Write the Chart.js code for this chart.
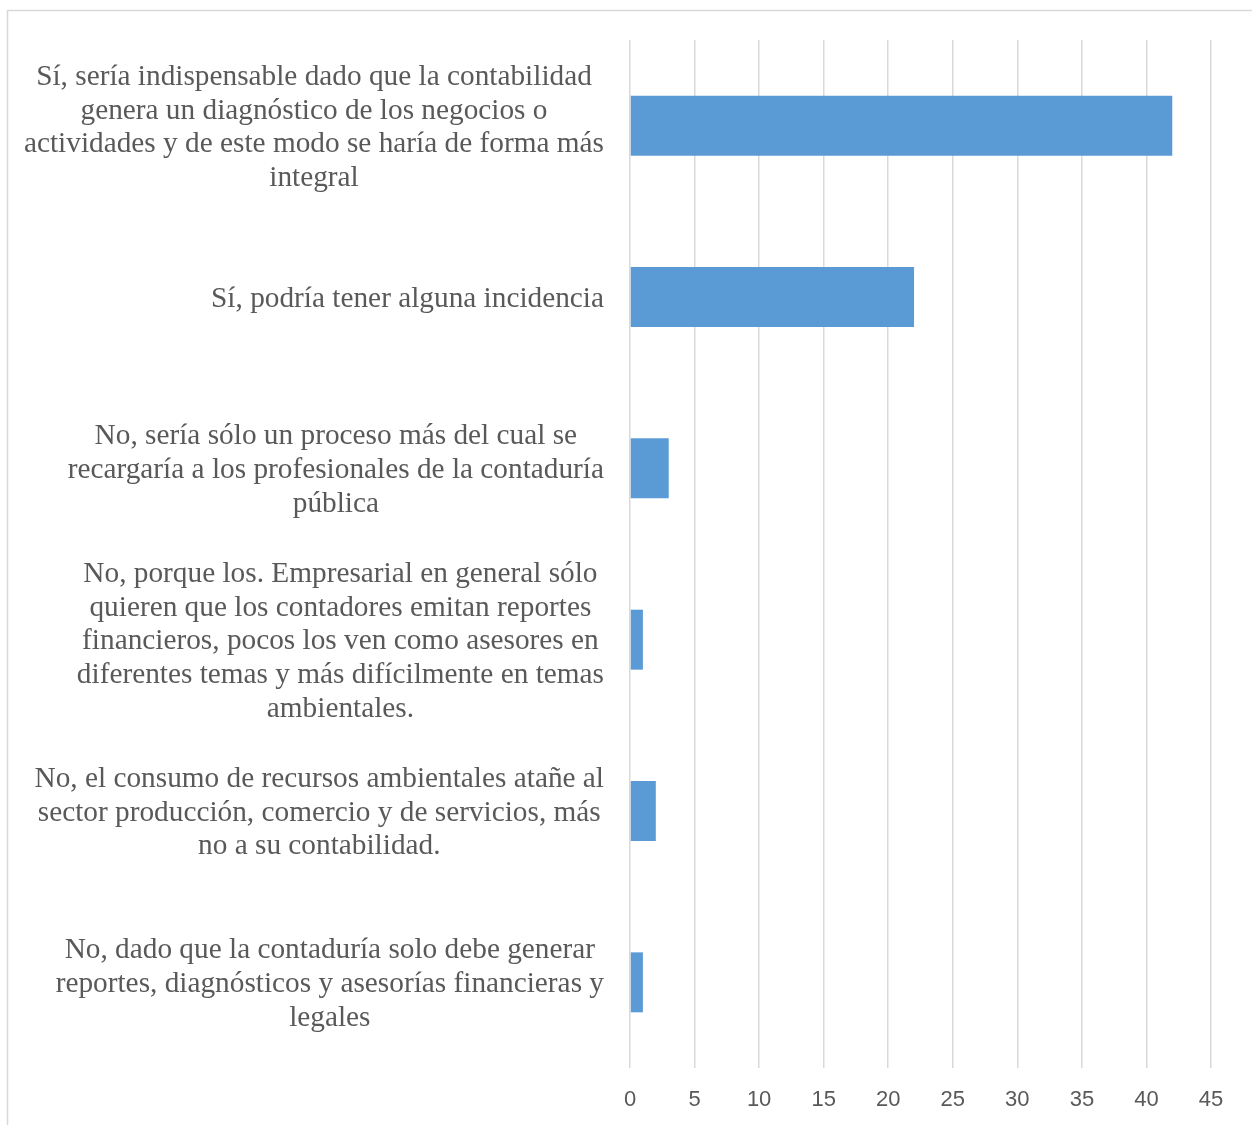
<!DOCTYPE html>
<html>
<head>
    <title>Incidencia de la contabilidad</title>
    <script src="https://cdn.jsdelivr.net/npm/chart.js"></script>
    <style>
      body { margin: 0; background: #fff; }
      #wrap { position: relative; width: 1252px; height: 1125px; }
    </style>
</head>
<body>
  <div id="wrap"><canvas id="barChart"></canvas></div>
  <script>
    // respuestas (one array of lines per category, top to bottom)
    const categories = [
      ['Sí, sería indispensable dado que la contabilidad', 'genera un diagnóstico de los negocios o', 'actividades y de este modo se haría de forma más', 'integral'],
      ['Sí, podría tener alguna incidencia'],
      ['No, sería sólo un proceso más del cual se', 'recargaría a los profesionales de la contaduría', 'pública'],
      ['No, porque los. Empresarial en general sólo', 'quieren que los contadores emitan reportes', 'financieros, pocos los ven como asesores en', 'diferentes temas y más difícilmente en temas', 'ambientales.'],
      ['No, el consumo de recursos ambientales atañe al', 'sector producción, comercio y de servicios, más', 'no a su contabilidad.'],
      ['No, dado que la contaduría solo debe generar', 'reportes, diagnósticos y asesorías financieras y', 'legales']
    ];
    const counts = [42, 22, 3, 1, 2, 1];
    const xMin = 0, xMax = 45, xStep = 5;

    const textColor = '#595959';
    const gridColor = '#d9d9d9';
    const barColor = '#5b9bd5';
    const labelFont = '29.3px "Liberation Serif", "Times New Roman", serif';

    // category labels: each block centred on its own widest line, right edge near the axis
    const blockLabels = {
      id: 'blockLabels',
      afterDraw(chart) {
        const ctx = chart.ctx;
        const yScale = chart.scales.y;
        const right = chart.chartArea.left - 26;
        const lineH = 33.7;
        ctx.save();
        ctx.font = labelFont;
        ctx.fillStyle = textColor;
        ctx.textAlign = 'center';
        ctx.textBaseline = 'middle';
        categories.forEach((lines, i) => {
          const widest = Math.max(...lines.map(l => ctx.measureText(l).width));
          const cx = right - widest / 2;
          const cy = yScale.getPixelForValue(i) + 2;
          const top = cy - (lines.length - 1) * lineH / 2;
          lines.forEach((l, k) => ctx.fillText(l, cx, top + k * lineH));
        });
        ctx.restore();
      }
    };

    // light frame round the chart
    const frame = {
      id: 'frame',
      beforeDraw(chart) {
        const ctx = chart.ctx;
        ctx.save();
        ctx.strokeStyle = gridColor;
        ctx.lineWidth = 1.5;
        ctx.strokeRect(7.5, 10.5, chart.width + 20, chart.height + 20);
        ctx.restore();
      }
    };

    const ctx1 = document.getElementById('barChart').getContext('2d');
    const barChart = new Chart(ctx1, {
      type: 'bar',
      data: {
        labels: categories.map(c => c.join(' ')),
        datasets: [{
          data: counts,
          backgroundColor: barColor,
          categoryPercentage: 1,
          barPercentage: 0.35
        }]
      },
      options: {
        indexAxis: 'y',
        responsive: true,
        maintainAspectRatio: false,
        animation: false,
        layout: { padding: { left: 630, right: 41, top: 40, bottom: 13 } },
        plugins: {
          legend: { display: false },
          tooltip: { enabled: false }
        },
        scales: {
          x: {
            min: xMin,
            max: xMax,
            border: { display: false },
            grid: { color: gridColor, lineWidth: 1.5, drawTicks: false },
            afterFit: scale => { scale.height = 44; },
            ticks: {
              stepSize: xStep,
              padding: 19,
              color: textColor,
              font: { family: '"Liberation Sans", Arial, sans-serif', size: 22 }
            }
          },
          y: {
            border: { display: false },
            grid: { display: false },
            afterFit: scale => { scale.width = 0; },
            ticks: { display: false }
          }
        }
      },
      plugins: [frame, blockLabels]
    });
  </script>
</body>
</html>
